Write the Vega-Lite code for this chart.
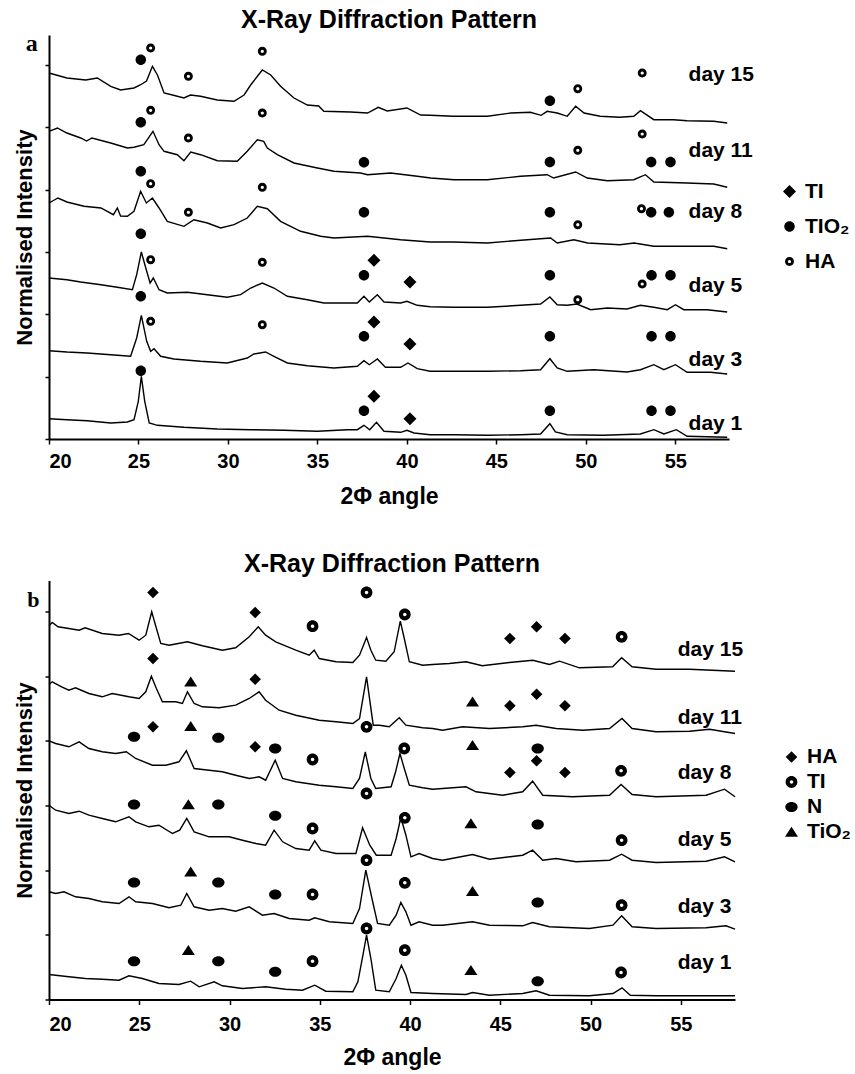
{
  "$schema": "https://vega.github.io/schema/vega-lite/v6.json",
  "background": "white",
  "padding": {"left": 13, "top": 8, "right": 5, "bottom": 0},
  "spacing": 43.5,
  "config": {
    "view": {"stroke": null},
    "font": "Liberation Sans",
    "title": {"font": "Liberation Sans", "fontSize": 25, "fontWeight": "bold", "color": "black", "anchor": "middle"},
    "axis": {"domainColor": "black", "domainWidth": 2, "tickColor": "black", "tickWidth": 1.5, "grid": false, "labelFont": "Liberation Sans", "labelFontWeight": "bold", "labelColor": "black", "titleFont": "Liberation Sans", "titleFontWeight": "bold", "titleColor": "black"},
    "axisX": {"labelFontSize": 20, "titleFontSize": 23, "tickSize": 5},
    "axisY": {"titleFontSize": 22, "tickSize": 4, "labels": false, "titlePadding": 8},
    "legend": {"padding": 0, "labelFont": "Liberation Sans", "labelFontWeight": "bold", "labelFontSize": 21, "labelColor": "black", "symbolFillColor": "black", "symbolStrokeWidth": 0, "symbolSize": 196, "labelOffset": 5}
  },
  "resolve": {"scale": {"x": "independent", "y": "independent", "shape": "independent"}, "legend": {"shape": "independent"}},
  "vconcat": [
    {
      "width": 680,
      "height": 404,
      "title": {"text": "X-Ray Diffraction Pattern", "offset": -1},
      "encoding": {
        "x": {"field": "x", "type": "quantitative", "scale": {"domain": [20, 58], "nice": false, "zero": false}, "axis": {"values": [20, 25, 30, 35, 40, 45, 50, 55], "title": "2Φ angle", "labelPadding": 7, "titlePadding": 14}},
        "y": {"field": "y", "type": "quantitative", "scale": {"domain": [0, 404], "nice": false, "zero": false}, "axis": {"values": [0, 62.3, 124.6, 186.9, 249.2, 311.5, 373.8], "title": "Normalised Intensity"}}
      },
      "layer": [
        {
          "data": {"values": [
            {"d": "day 15", "x": [20,21,22.05,22.7,23.45,24,24.75,25.1,25.45,25.78,26.06,26.43,26.9,27.54,27.9,28.47,29.4,30.34,30.9,31.27,31.92,32.39,32.94,33.69,34.44,35.07,35.36,36.85,37.8,38.4,38.9,40,40.77,41.3,42.6,44.5,45.8,46.9,47.5,47.84,48.4,48.96,49.43,49.9,50.8,51.9,52.68,53.05,53.8,54.9,55.66,57.15,57.9],
             "y": [366,361,359,361,352.7,349,351,354,358,372.7,364,346,344,341,344,342.7,339,337.7,344,354,369,364,352.7,341,334,333,327.7,327,326,331.7,328,331,324,323.7,322.7,322.7,326,326.7,323.7,327.7,326,322.7,332.7,326,322.7,321.7,322.7,328.3,319.3,319.3,318.3,317.7,316]},
            {"d": "day 11", "x": [20,20.47,21,21.77,22.1,22.4,23.45,24.38,24.75,25.3,25.81,26.15,26.43,27.17,27.54,27.92,28.47,29.41,30.52,31.08,31.64,32,32.2,32.76,33.69,35,35.92,37.41,37.8,39.09,40.58,41.33,42.63,44.5,46.35,47.84,48.2,49.43,50.08,51.2,52.68,53.33,53.8,55.66,57.15,57.9],
             "y": [307.7,311,306,301,298,301,296,291,291.7,294.3,307.7,294.3,287.7,284.3,278.3,287,284.3,278.3,277.7,287.7,299.3,297.7,291,284.3,276,271,267.7,266,264.3,266,262.7,261,259.3,259.3,262.7,264.3,261,267,261,258.3,259.3,264.3,257,256,255,251.7]},
            {"d": "day 8", "x": [20,20.5,21,21.96,22.9,23.6,23.82,24,24.38,24.75,25.12,25.44,25.78,26.15,26.61,27.54,28.1,28.85,29.59,30.34,31.08,31.64,32.2,32.94,34.06,35.18,35.92,37.8,39.65,41.3,42.6,44.5,46.73,48.03,48.4,49.33,50.1,51.9,52.7,53.8,55.66,57.15,57.9],
             "y": [236,241,237,232.7,231,224.3,231,223,222.7,227.7,247.7,236,241,231,217.7,212.7,219.3,216,211,214.3,221,232.7,230.3,217.7,207.7,202.7,201,202.7,199.3,197,197,196,199.3,201,196,199.3,196,194.3,196,192.7,192.7,192.7,190.3]},
            {"d": "day 5", "x": [20,21,21.77,22.9,23.82,24.66,24.9,25.16,25.46,25.65,25.83,26.15,26.61,27.73,28.85,29.96,30.71,31.27,31.92,32.57,33.32,34.44,35.36,37.23,37.6,37.9,38.35,38.72,39.65,40,40.58,41.3,42.63,44.5,46.35,47.47,47.99,48.4,48.96,49.5,50.27,51.2,52.3,53.05,53.8,54.55,55.01,55.47,56.78,57.9],
             "y": [161,159.3,157,154.3,151.7,149.3,164.3,187,167.7,156,161,149.3,146,146.7,144.3,141.7,144.3,151,156,151,142.7,139.3,136,136,142.7,137,144.3,137,136,137.7,133.7,132.3,131.7,131.7,133.7,135,142,134.3,133.7,135,129.3,131,130,133.7,131.7,129.3,134.3,129.3,129.3,127]},
            {"d": "day 3", "x": [20,21,22.13,23.45,24.56,24.9,25.16,25.46,25.68,25.87,26.24,26.98,28.47,29.96,31.08,31.45,32.1,32.57,33.32,34.44,35.92,37.23,37.6,37.9,38.35,38.8,39.65,40.06,40.58,41.3,42.63,44.5,46.35,47.47,47.99,48.4,48.96,50.45,52.3,53.05,53.8,54.36,55.01,55.66,56.97,57.9],
             "y": [88.3,87,86,84.3,82.7,101,123.7,97.7,87.7,90.3,82.7,80,77.7,76,81,85,87,82.7,76,73.3,71,72.7,78.3,74.3,80,71.7,71.7,76,70.3,67.7,67.7,67.7,68.3,69.3,80.3,71,67.7,69.3,67,69.3,74.3,69.3,74.3,66.7,66.7,65]},
            {"d": "day 1", "x": [20,21,22.13,23.45,24.38,24.75,24.99,25.16,25.35,25.6,26.06,27.54,29.41,31.27,33.13,35,36.66,37.23,37.6,37.92,38.3,38.72,39.65,40,40.4,41.3,42.63,44.5,46.35,47.47,47.99,48.3,48.96,51,53.05,53.8,54.36,55.06,55.66,57.9],
             "y": [20.3,19.3,18.3,16,17,19.3,37.7,62.7,37.7,16,13.7,11.7,10,9.3,8.7,7.7,9.3,9.3,13.7,9.3,16.7,7.7,6.7,8.7,6,4.3,4.3,3.7,4.3,5,15.3,7,4.3,3.7,5,9.3,5,9.3,2.7,1.7]}
          ]},
          "transform": [{"flatten": ["x", "y"]}],
          "mark": {"type": "line", "color": "black", "strokeWidth": 1.4},
          "encoding": {"detail": {"field": "d"}}
        },
        {
          "data": {"values": [
            {"p": "TIO₂", "x": [25.13,47.99,25.13,37.6,47.99,53.65,54.73,25.13,37.6,47.99,53.65,54.64,25.13,37.6,47.99,53.67,54.73,25.13,37.6,47.99,53.67,54.73,25.13,37.6,47.99,53.67,54.73],
             "y": [379.3,338.3,316.7,276.7,277,277,277,267.7,226.7,226.7,226.7,226.7,205.3,163.7,163.7,163.7,163.7,142.7,102.7,102.7,102.7,102.7,68.3,28.3,28.3,28.3,28.3]},
            {"p": "HA", "x": [25.68,27.79,31.92,49.55,53.15,25.68,27.79,31.92,49.55,53.15,25.68,27.79,31.92,49.55,53.11,25.68,31.92,49.55,53.15,25.68,31.92],
             "y": [391,362.7,387.7,350.3,366,328.7,301,326,288.7,305,255.3,226.7,251.7,214.3,230.3,179.3,176.7,139.3,155,117.7,114.3]},
            {"p": "TI", "x": [38.16,40.17,38.16,40.17,38.16,40.17], "y": [178.7,157,117,95,42.7,20.3]}
          ]},
          "transform": [{"flatten": ["x", "y"]}],
          "mark": {"type": "point", "filled": true, "color": "black", "opacity": 1, "size": 196, "strokeWidth": 0},
          "encoding": {
            "shape": {"field": "p", "type": "nominal",
              "scale": {"domain": ["TI", "TIO₂", "HA"], "range": ["M0,-0.93L0.93,0L0,0.93L-0.93,0Z", "M-0.75,0A0.75,0.75,0,1,0,0.75,0A0.75,0.75,0,1,0,-0.75,0Z", "M-0.64,0A0.64,0.64,0,1,0,0.64,0A0.64,0.64,0,1,0,-0.64,0ZM-0.23,0A0.23,0.23,0,1,1,0.23,0A0.23,0.23,0,1,1,-0.23,0Z"]},
              "legend": {"title": null, "orient": "none", "legendX": 730, "legendY": 146, "rowPadding": 13}}
          }
        },
        {
          "data": {"values": [
            {"x": 55.74, "y": 357.7, "label": "day 15"},
            {"x": 55.74, "y": 281.7, "label": "day 11"},
            {"x": 55.74, "y": 221, "label": "day 8"},
            {"x": 55.74, "y": 147, "label": "day 5"},
            {"x": 55.74, "y": 72.7, "label": "day 3"},
            {"x": 55.74, "y": 9.3, "label": "day 1"}
          ]},
          "mark": {"type": "text", "align": "left", "baseline": "alphabetic", "font": "Liberation Sans", "fontWeight": "bold", "fontSize": 21, "color": "black"},
          "encoding": {"text": {"field": "label"}}
        },
        {
          "data": {"values": [{"x": 18.7, "y": 388, "label": "a"}]},
          "mark": {"type": "text", "align": "left", "baseline": "alphabetic", "font": "Liberation Serif", "fontWeight": "bold", "fontSize": 24, "color": "black"},
          "encoding": {"text": {"field": "label"}}
        }
      ]
    },
    {
      "width": 686,
      "height": 419,
      "title": {"text": "X-Ray Diffraction Pattern", "offset": 3.5},
      "encoding": {
        "x": {"field": "x", "type": "quantitative", "scale": {"domain": [20, 58], "nice": false, "zero": false}, "axis": {"values": [20, 25, 30, 35, 40, 45, 50, 55], "title": "2Φ angle", "labelPadding": 10, "titlePadding": 12}},
        "y": {"field": "y", "type": "quantitative", "scale": {"domain": [0, 419], "nice": false, "zero": false}, "axis": {"values": [0, 64.7, 129.4, 194.1, 258.8, 323.5, 388.2], "title": "Normalised Intensity"}}
      },
      "layer": [
        {
          "data": {"values": [
            {"d": "day 15", "x": [20,20.18,20.5,21.1,21.67,22,22.95,23.88,24.4,24.99,25.36,25.69,25.9,26.19,26.65,27.67,28.5,29.6,30.34,31.09,31.59,32,32.56,33.67,34.41,34.69,34.97,35.9,36.83,37.2,37.59,37.83,38.1,38.66,39.12,39.46,39.68,39.96,40.7,41.25,42.17,43.1,44,45.5,46.8,47.72,48.28,49.38,51.22,51.72,52.3,53.63,55.48,58],
             "y": [373.7,377,372.7,371,369.3,371.7,366,364.3,366,359.3,364.3,387.7,374.3,356,354.3,357.7,353.7,349.3,351.7,362.7,372.7,364.3,357.7,349.3,344.3,349.3,341,337.7,337,344.3,362,349.3,339.3,338.3,347.7,378.3,361,337.7,334.3,335,336,337.7,333.7,337,339.3,335,338.3,331.7,332.7,341.7,332.7,330.3,330.3,328.3]},
            {"d": "day 11", "x": [20,20.18,20.7,21.1,21.47,22.21,22.95,23.5,24.43,24.99,25.36,25.67,25.95,26.28,27.02,27.39,27.67,28.04,28.5,29.43,30.34,31.09,31.64,32,32.75,33.67,34.97,35.9,36.83,37.2,37.59,37.96,38.3,38.85,39.4,39.77,40.7,41.25,41.8,42.91,44.4,46.24,46.98,48.09,49.57,51.05,51.74,52.3,53.63,55.48,56.59,58],
             "y": [315,317.7,312.7,309.3,311.7,306,302.7,306,302.7,301,307.7,323.3,311,297.7,297.7,296,307.7,296,292.7,291.7,294.3,301,307.7,299.3,289.3,284.3,279.3,277.7,276,281,322.7,274.3,274.3,272.7,281.7,274.3,271.7,271,269.3,272.7,271,272.7,274.3,271,269.3,271,281,271,267.7,268.3,270.3,266]},
            {"d": "day 8", "x": [20,20.37,21.1,21.67,22.21,22.95,23.69,24.28,24.8,25.73,26.47,27.2,27.61,28.04,28.87,29.6,30.34,31.09,31.64,32,32.53,32.94,33.67,34.97,35.9,36.83,37.2,37.52,37.83,38.1,38.95,39.2,39.44,39.68,39.96,40.7,41.25,43.1,43.65,45.13,46.24,46.79,47.35,49,51.05,51.69,52.3,53.63,56.4,57.42,58],
             "y": [258.7,256,252.7,257.7,251,247.7,246,247.7,241,234.3,234.3,237.7,248.7,231,229.3,227.7,224.3,221,222.7,219.3,239.3,221,217.7,214.3,212.7,211,221,247.7,221,211,212.7,227.7,246,231,214.3,211.7,210.3,212.7,207.7,204.3,207.7,218.3,204.3,202.7,204.3,215,205,202.7,204.3,210.3,202.7]},
            {"d": "day 5", "x": [20,20.37,21.1,21.67,22.21,22.95,23.69,24.43,24.8,25.54,26.09,26.84,27.24,27.63,28.04,28.87,29.98,30.72,31.46,32,32.47,32.94,33.67,34.41,34.72,35.06,35.9,37,37.37,37.77,38.13,38.95,39.23,39.49,39.77,40.05,40.5,41.25,41.8,43.46,44.4,46.24,46.79,47.35,48.09,49.2,51.05,51.72,52.3,53.63,56.4,57.42,58],
             "y": [194.3,189.3,186,188.3,184.3,181,177.7,182.7,177.7,172.7,174.3,166,169.3,181,167.7,162.7,162.7,159.3,156,154.3,169.3,157.7,151,149.3,158.7,149.3,146,146,171.7,154.3,144.3,144.3,161,182,164.3,142.7,146,141,139.3,145,140.3,144.3,149.3,139.3,141,137.7,139.3,145.3,139.3,137,138.3,142.7,137.7]},
            {"d": "day 3", "x": [20,20.37,20.83,21.47,22.21,22.95,23.88,24.43,24.8,25.73,26.65,27.3,27.63,28.04,28.87,29.6,30.34,31.09,31.82,32.47,33.3,34.41,34.72,35.53,36.83,37.2,37.55,37.89,38.2,38.85,39.23,39.49,39.77,40.05,40.5,41.25,41.8,43.46,44.4,46.24,46.79,47.72,49.94,51.24,51.72,52.3,53.63,56.4,57.5,58],
             "y": [107.7,106,107.7,102.7,101,97.7,96,102.7,97.7,96,91.7,94.3,106,92.7,89.3,91,88.3,92.7,84.3,86,81,79.3,81.7,77.7,76,91,129.3,101,76,74.3,84.3,97,87.7,74.3,77.7,74.3,74.3,77.7,74.3,73.7,77,72.7,71,74.3,83.7,72.7,71,71.7,73.7,70.3]},
            {"d": "day 1", "x": [20,21.1,22.02,22.95,23.88,24.43,25.17,26.09,27.2,27.85,28.32,29.15,29.6,30.72,32,33.1,34.04,34.72,35.33,36.83,37.11,37.39,37.59,37.83,38.1,38.85,39.23,39.52,39.77,40.05,41.25,43.1,43.46,44.4,46.24,46.98,47.72,49.94,51.24,51.74,52.2,53.63,58],
             "y": [25,22.7,21,20.3,19.3,23.7,21,16,15,18.3,12.7,17.7,13.7,11,12.7,10.3,9.3,14.3,8.3,7.7,17.7,44.3,64.3,41,9.3,7.7,21,34.3,24.3,7,6,5,7,4.3,6,8.7,4.3,3.7,6,11.7,4.3,3.7,3.7]}
          ]},
          "transform": [{"flatten": ["x", "y"]}],
          "mark": {"type": "line", "color": "black", "strokeWidth": 1.4},
          "encoding": {"detail": {"field": "d"}}
        },
        {
          "data": {"values": [
            {"p": "HA", "x": [25.76,31.42,45.53,47.01,48.58,25.76,31.42,45.53,47.01,48.58,25.76,31.42,45.53,47.01,48.58],
             "y": [407,387,361,372.7,361,341,320.3,293.7,305.3,293.7,272.7,252.7,227,238.7,227]},
            {"p": "TI", "x": [34.6,37.59,39.71,51.72,34.6,37.59,39.68,51.69,34.6,37.59,39.71,51.72,34.6,37.59,39.71,51.72,34.6,37.59,39.71,51.69],
             "y": [373.3,407,385,362.7,240,272.7,251,228.7,171,206,181.7,159.3,105,139.3,116.7,94.3,38.3,71,49.3,27]},
            {"p": "N", "x": [24.71,29.38,32.53,47.07,24.71,29.38,32.53,47.07,24.71,29.38,32.53,47.07,24.71,29.38,32.53,47.07],
             "y": [262.7,261.7,251,251,195,195,183.7,175,117,117,105,97,38.3,38.3,27.7,18.3]},
            {"p": "TiO₂", "x": [27.85,43.46,27.85,43.46,27.72,43.37,27.85,43.46,27.72,43.37],
             "y": [317.7,297.7,273.3,254.3,195,176,127.7,108.3,49.3,29.3]}
          ]},
          "transform": [{"flatten": ["x", "y"]}],
          "mark": {"type": "point", "filled": true, "color": "black", "opacity": 1, "size": 196, "strokeWidth": 0},
          "encoding": {
            "shape": {"field": "p", "type": "nominal",
              "scale": {"domain": ["HA", "TI", "N", "TiO₂"], "range": ["M0,-0.83L0.83,0L0,0.83L-0.83,0Z", "M-0.84,0A0.84,0.84,0,1,0,0.84,0A0.84,0.84,0,1,0,-0.84,0ZM-0.25,0A0.25,0.25,0,1,1,0.25,0A0.25,0.25,0,1,1,-0.25,0Z", "M-0.88,0A0.88,0.72,0,1,0,0.88,0A0.88,0.72,0,1,0,-0.88,0Z", "M0,-0.75L0.93,0.68L-0.93,0.68Z"]},
              "legend": {"title": null, "orient": "none", "legendX": 732, "legendY": 166, "rowPadding": 3}}
          }
        },
        {
          "data": {"values": [
            {"x": 54.83, "y": 343.7, "label": "day 15"},
            {"x": 54.83, "y": 276, "label": "day 11"},
            {"x": 54.83, "y": 221, "label": "day 8"},
            {"x": 54.83, "y": 153.7, "label": "day 5"},
            {"x": 54.83, "y": 87, "label": "day 3"},
            {"x": 54.83, "y": 31, "label": "day 1"}
          ]},
          "mark": {"type": "text", "align": "left", "baseline": "alphabetic", "font": "Liberation Sans", "fontWeight": "bold", "fontSize": 21, "color": "black"},
          "encoding": {"text": {"field": "label"}}
        },
        {
          "data": {"values": [{"x": 18.8, "y": 392.7, "label": "b"}]},
          "mark": {"type": "text", "align": "left", "baseline": "alphabetic", "font": "Liberation Serif", "fontWeight": "bold", "fontSize": 22, "color": "black"},
          "encoding": {"text": {"field": "label"}}
        }
      ]
    }
  ]
}
